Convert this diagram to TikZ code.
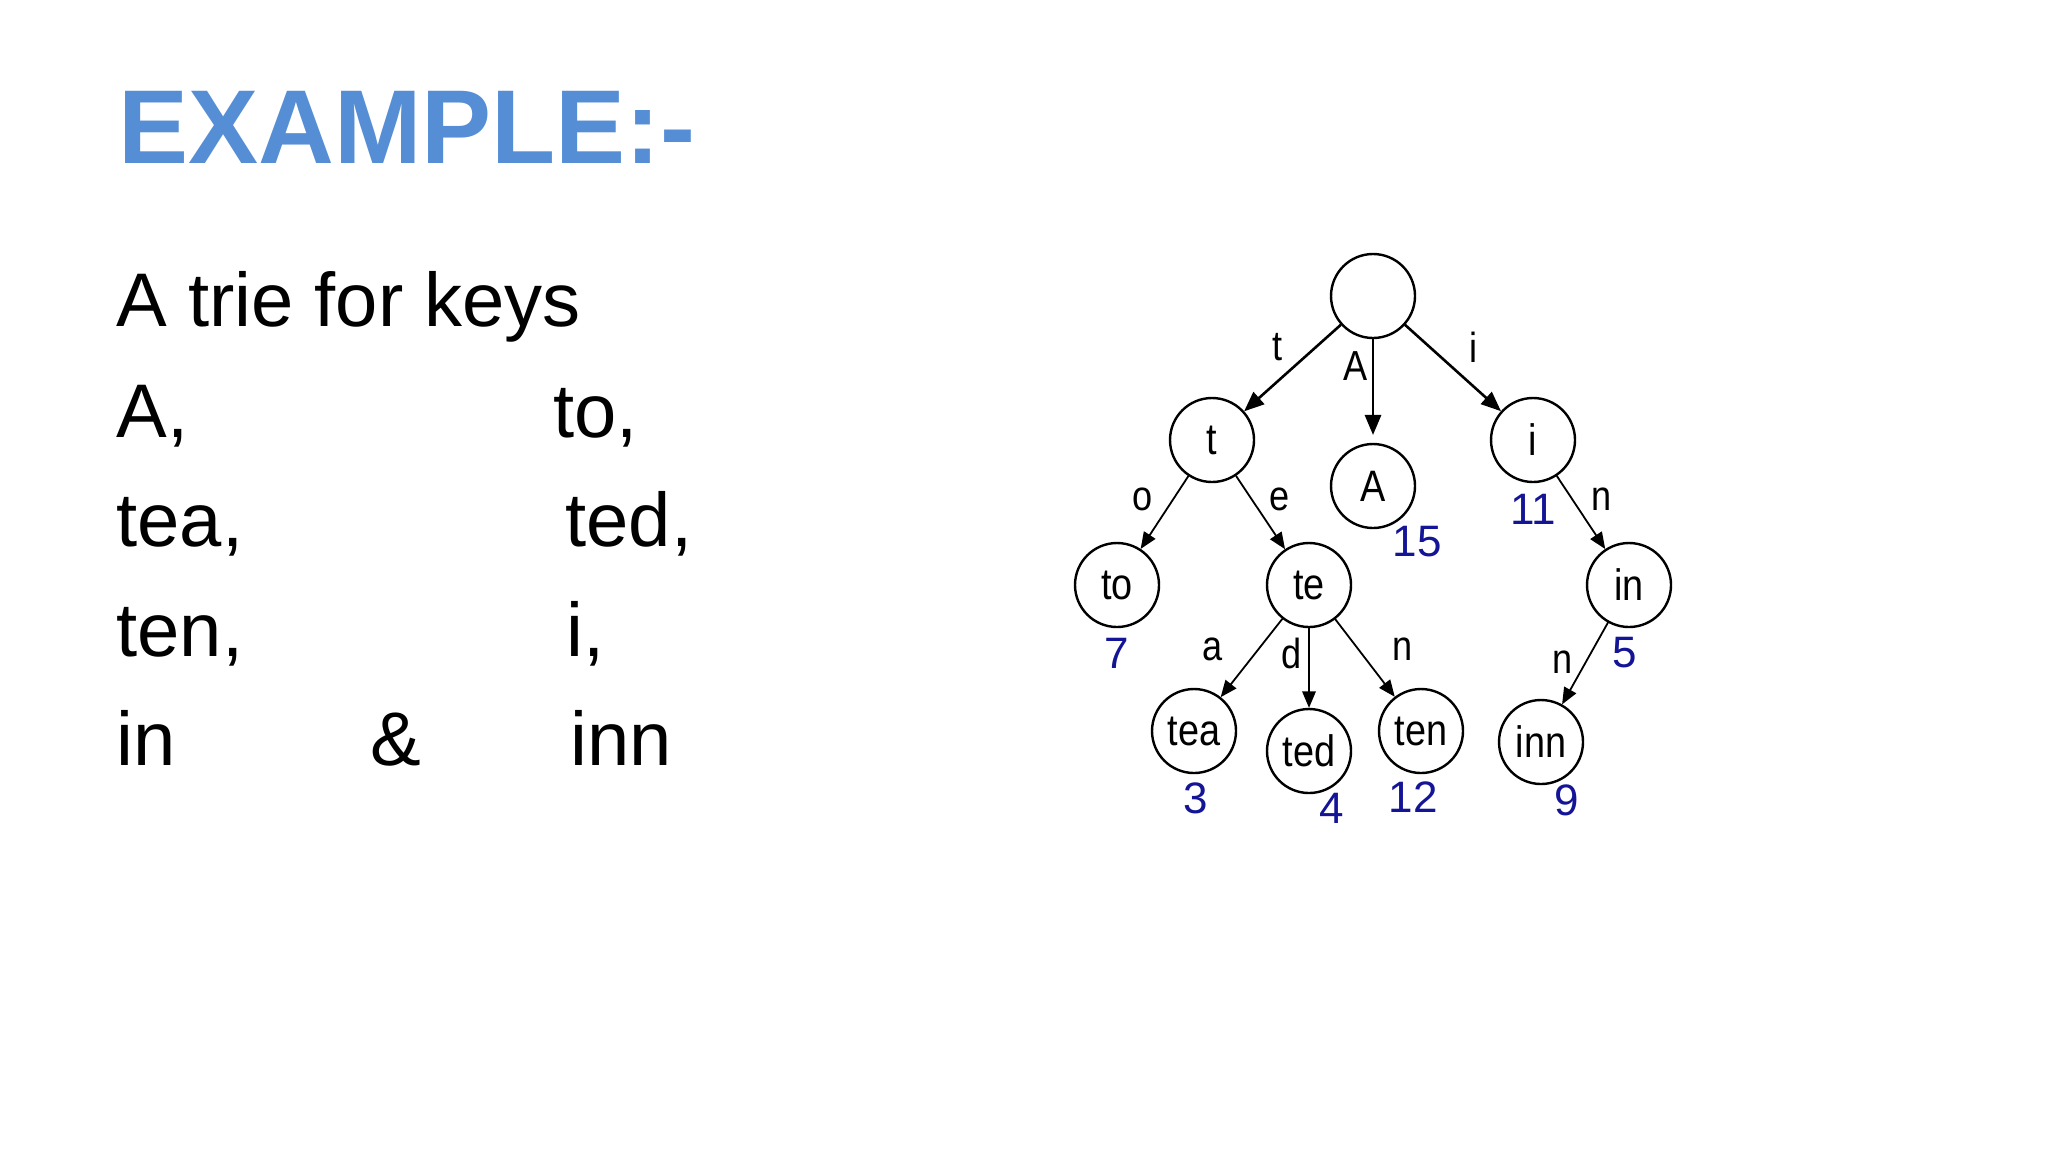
\documentclass[tikz,border=0pt]{standalone}
\usepackage{fontspec}
\setmainfont{Liberation Sans}
\newfontfamily\treefont[FakeStretch=0.86]{Liberation Sans}
\usetikzlibrary{shapes, calc, arrows}
\definecolor{titleblue}{RGB}{85,142,213}
\definecolor{numblue}{RGB}{20,20,150}
\tikzset{
  trienode/.style={circle, draw, line width=1.2pt, inner sep=0pt, minimum size=42pt, font=\treefont\fontsize{22}{22}\selectfont},
  keynum/.style={text=numblue, inner sep=0pt, font=\fontsize{22}{22}\selectfont},
  edgelbl/.style={inner sep=0pt, font=\treefont\fontsize{21}{21}\selectfont},
  slidetext/.style={anchor=base west, inner sep=0pt, font=\fontsize{38}{38}\selectfont},
  bigedge/.style={->, line width=1.3pt},
  smalledge/.style={->, line width=0.9pt}
}

\begin{document}
\begin{tikzpicture}[line cap=round,line join=round,>=triangle 45,x=0.5pt,y=-0.5pt]
\useasboundingbox[fill=white] (0,0) rectangle (2048,1152);
% title and keys
\node[anchor=base west, inner sep=0pt, text=titleblue, font=\bfseries\fontsize{52.5}{52.5}\selectfont] (title) at (118,163) {EXAMPLE:-};
\node[slidetext] (intro) at (116,326) {A trie for keys};
\node[slidetext] (kA) at (116,437) {A,};
\node[slidetext] (kto) at (553,437) {to,};
\node[slidetext] (ktea) at (116,546) {tea,};
\node[slidetext] (kted) at (565,546) {ted,};
\node[slidetext] (kten) at (116,656) {ten,};
\node[slidetext] (ki) at (566,656) {i,};
\node[slidetext] (kin) at (116,765) {in};
\node[slidetext] (kamp) at (370,765) {\&};
\node[slidetext] (kinn) at (570,765) {inn};
% trie
\node[trienode] (root) at (1373,296) {};
\node[trienode] (t) at (1212,440) {t};
\node[trienode] (A) at (1373,486) {A};
\node[trienode] (i) at (1533,440) {i};
\node[trienode] (to) at (1117,585) {to};
\node[trienode] (te) at (1309,585) {te};
\node[trienode] (in) at (1629,585) {in};
\node[trienode] (tea) at (1194,731) {tea};
\node[trienode] (ted) at (1309,751) {ted};
\node[trienode] (ten) at (1421,731) {ten};
\node[trienode] (inn) at (1541,742) {inn};
\draw[bigedge] (root) -- (t);
\draw[bigedge, shorten >=4pt] (root) -- (A);
\draw[bigedge] (root) -- (i);
\draw[smalledge] (t) -- (to);
\draw[smalledge] (t) -- (te);
\draw[smalledge] (i) -- (in);
\draw[smalledge] (te) -- (tea);
\draw[smalledge] (te) -- (ted);
\draw[smalledge] (te) -- (ten);
\draw[smalledge] (in) -- (inn);
% edge letters
\node[edgelbl] (lt) at (1277,347) {t};
\node[edgelbl] (lA) at (1356,366) {A};
\node[edgelbl] (li) at (1473,347) {i};
\node[edgelbl] (lo) at (1143,499) {o};
\node[edgelbl] (le) at (1280,499) {e};
\node[edgelbl] (ln) at (1602,499) {n};
\node[edgelbl] (la) at (1213,649) {a};
\node[edgelbl] (ld) at (1292,653) {d};
\node[edgelbl] (ln2) at (1403,649) {n};
\node[edgelbl] (ln3) at (1563,662) {n};
% values
\node[keynum] (v15) at (1417,542) {15};
\node[keynum] (v11) at (1533,509) {11};
\node[keynum] (v7) at (1117,653) {7};
\node[keynum] (v5) at (1625,653) {5};
\node[keynum] (v3) at (1196,798) {3};
\node[keynum] (v4) at (1332,808) {4};
\node[keynum] (v12) at (1413,797) {12};
\node[keynum] (v9) at (1567,800) {9};
\end{tikzpicture}
\end{document}
